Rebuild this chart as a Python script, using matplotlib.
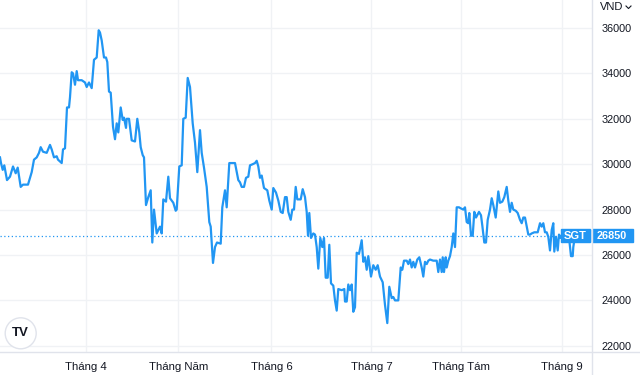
import matplotlib
matplotlib.use("Agg")
import matplotlib.pyplot as plt
from matplotlib.lines import Line2D
from matplotlib.patches import Rectangle, Circle
import matplotlib.transforms as mtransforms

plt.rcParams['font.family'] = ['Liberation Sans', 'DejaVu Sans']

# session index (approx. trading sessions since start) and closing price, VND
session = [0.0, 0.2, 0.54, 0.86, 1.4, 2.0, 2.6, 3.14, 3.54, 4.14, 4.6, 5.6, 6.34, 6.8, 7.34,
           7.8, 8.14, 8.6, 9.34, 10.0, 10.34, 10.8, 11.34, 11.6, 12.34, 12.6, 13.0, 13.4, 13.8,
           14.0, 14.34, 14.6, 15.0, 15.34, 15.6, 16.34, 17.0, 17.34, 17.8, 18.34, 18.8, 19.34,
           19.74, 20.0, 20.34, 20.8, 21.2, 21.46, 21.8, 22.14, 22.6, 23.0, 23.34, 23.66, 24.14,
           24.54, 24.8, 25.2, 25.34, 25.8, 26.34, 27.0, 27.46, 27.86, 28.14, 28.54, 28.8, 29.2,
           29.66, 30.14, 30.46, 30.8, 31.34, 32.0, 32.34, 32.66, 33.2, 33.66, 34.0, 34.66, 35.14,
           35.34, 35.86, 36.34, 36.66, 37.14, 37.54, 38.0, 38.54, 39.0, 39.46, 40.0, 40.34, 40.8,
           41.34, 41.86, 42.14, 42.6, 43.0, 43.4, 44.14, 44.46, 45.0, 45.34, 45.86, 47.0, 47.66,
           48.0, 48.34, 48.8, 49.2, 49.66, 50.0, 50.54, 51.0, 51.34, 51.66, 52.0, 52.34, 52.8,
           53.46, 53.86, 54.34, 54.66, 55.2, 55.66, 56.14, 56.54, 57.0, 57.34, 57.66, 58.14,
           58.46, 58.8, 59.14, 59.46, 60.14, 60.54, 61.0, 61.34, 61.6, 61.86, 62.2, 62.66, 63.0,
           63.34, 63.66, 64.06, 64.46, 64.8, 65.14, 65.54, 65.86, 66.2, 66.66, 67.0, 67.34, 67.66,
           68.34, 68.86, 69.0, 69.34, 69.66, 70.0, 70.34, 70.66, 71.0, 71.34, 71.8, 72.34, 72.66,
           73.0, 73.34, 73.66, 74.2, 74.66, 75.14, 75.54, 76.0, 76.54, 77.0, 77.46, 77.86, 78.34,
           78.66, 79.0, 79.66, 80.14, 80.46, 80.8, 81.34, 81.66, 82.0, 82.34, 82.66, 83.0, 83.46,
           83.86, 84.34, 84.66, 85.0, 85.34, 85.66, 86.0, 86.66, 87.34, 87.66, 88.0, 88.34, 88.54,
           88.8, 89.14, 89.34, 89.66, 90.0, 90.34, 90.66, 91.0, 91.34, 91.8, 92.2, 92.66, 93.0,
           93.34, 93.66, 93.86, 94.2, 94.54, 94.86, 95.2, 95.8, 96.2, 96.46, 96.86, 97.2, 97.54,
           98.0, 98.34, 98.66, 99.14, 99.66, 100.0, 100.46, 100.86, 101.34, 101.66, 102.0, 102.34,
           102.66, 103.14, 103.54, 104.0, 104.34, 104.66, 105.0, 105.34, 105.66, 106.0, 106.34,
           106.86, 107.54, 108.0, 108.34, 108.66, 109.0, 109.34, 109.66, 110.0, 110.34, 110.66,
           110.86, 111.2, 111.54, 111.8, 112.14, 112.6, 113.2, 113.86, 114.2, 114.54, 114.66, 115.0]

price = [30300, 30050, 29750, 29950, 29300, 29450, 29900, 29600, 29850, 29000, 29100, 29100, 29650,
         30200, 30300, 30500, 30750, 30550, 30500, 30850, 30650, 30300, 30350, 30200, 30050, 30650,
         30700, 32500, 32500, 32950, 34050, 34000, 33500, 34100, 33700, 33700, 33600, 33400, 33600,
         33350, 34600, 34700, 35900, 35800, 35450, 34700, 34700, 34500, 33200, 33150, 31650, 31100,
         31800, 31400, 32500, 31950, 32050, 31600, 32000, 32000, 31050, 31000, 32000, 31400, 30750,
         30400, 30300, 28200, 28550, 28850, 26550, 28000, 26950, 27250, 26950, 28450, 28350, 29450,
         28500, 28300, 27950, 28000, 29900, 29950, 32000, 32050, 33800, 33400, 31800, 30950, 29650,
         31500, 30500, 29850, 29000, 27450, 27250, 25650, 26350, 26550, 26500, 28100, 28850, 28100,
         30050, 30050, 29300, 29200, 29000, 29000, 29400, 29450, 29950, 30000, 30050, 30150, 29900,
         29400, 29500, 28950, 28850, 28400, 28000, 28950, 28750, 28400, 27900, 27850, 28550, 28550,
         27900, 27550, 28000, 28000, 29000, 28450, 28450, 28900, 28550, 27900, 26850, 27850, 26750,
         26950, 26900, 26350, 25400, 26750, 26350, 26750, 25000, 25000, 26450, 24750, 24650, 24000,
         23550, 24500, 24450, 24500, 23950, 23950, 24700, 24450, 24700, 23500, 23700, 26100, 26050,
         26650, 25700, 25900, 25350, 25950, 25050, 25550, 25350, 25550, 25050, 24800, 23800, 23000,
         24600, 24100, 24150, 24000, 24000, 25450, 25350, 25750, 25750, 25600, 25800, 25450, 25700,
         25450, 25800, 25900, 25450, 25050, 25700, 25600, 25750, 25800, 25750, 25750, 25250, 25800,
         25250, 25900, 25250, 25900, 25450, 25750, 25950, 26350, 26950, 26350, 28100, 28100, 28050,
         28000, 28100, 27450, 27400, 27850, 26850, 26850, 27900, 27650, 27900, 27750, 27300, 26550,
         26550, 27550, 28000, 28500, 28200, 27650, 28800, 28300, 28350, 28550, 29000, 28400, 27900,
         28300, 28000, 27950, 27850, 27550, 27400, 27650, 27650, 27250, 26900, 26900, 26950, 27000,
         27000, 27400, 27250, 27400, 27000, 27000, 26800, 26200, 27100, 27400, 26150, 26800, 26200,
         26900, 26750, 27000, 27000, 26650, 25950, 25950, 26350, 26850]

month_pos = [17.2, 35.7, 54.3, 74.3, 92.3, 112.4]
month_labels = ["Tháng 4", "Tháng Năm", "Tháng 6", "Tháng 7", "Tháng Tám", "Tháng 9"]
price_ticks = [22000, 24000, 26000, 28000, 30000, 32000, 34000, 36000]
symbol = "SGT"
last_price = 26850

blue = "#2196f3"
grid_c = "#f0f2f5"
border_c = "#e0e3eb"
text_c = "#131722"

fig = plt.figure(figsize=(6.4, 3.75), dpi=100)
ax = fig.add_axes([0, 23 / 375, 592 / 640, 352 / 375])

ax.plot(session, price, color=blue, lw=1.6, solid_joinstyle="round", zorder=3)
ax.axhline(last_price, color=blue, lw=0.9, ls=(0, (1, 2)), zorder=2)

ax.set_xlim(0, 118.4)
ax.set_ylim(21727, 37233)
ax.set_xticks(month_pos, month_labels)
ax.set_yticks(price_ticks, [str(v) for v in price_ticks])
ax.yaxis.tick_right()
ax.grid(True, color=grid_c, lw=1)
ax.set_axisbelow(True)
ax.tick_params(axis="both", length=0, colors=text_c)
ax.tick_params(axis="x", pad=7, labelsize=8.2)
ax.tick_params(axis="y", pad=7, labelsize=7.8)
for s in ax.spines.values():
    s.set_visible(False)

# frame lines of the widget
fig.add_artist(Line2D([0, 1], [23 / 375, 23 / 375], color=border_c, lw=1))
fig.add_artist(Line2D([592 / 640, 592 / 640], [0, 1], color=border_c, lw=1))

# last price labels
tr = mtransforms.blended_transform_factory(ax.transAxes, ax.transData)
ax.add_patch(Rectangle((561 / 592, last_price - 290), 28.5 / 592, 580, transform=tr,
                       color=blue, clip_on=False, zorder=4))
ax.add_patch(Rectangle((1.0, last_price - 290), 40.5 / 592, 580, transform=tr,
                       color=blue, clip_on=False, zorder=4))
ax.text(575 / 592, last_price, symbol, transform=tr, ha="center", va="center",
        color="white", fontsize=8, fontweight="bold", zorder=5)
ax.text(612 / 592, last_price, str(last_price), transform=tr, ha="center", va="center",
        color="white", fontsize=7.8, fontweight="bold", zorder=5, clip_on=False)

# currency selector
fig.text(600 / 640, 1 - 7 / 375, "VND", ha="left", va="center", color=text_c, fontsize=8)
fig.add_artist(Line2D([626 / 640, 628.5 / 640, 631 / 640],
                      [1 - 6 / 375, 1 - 8.5 / 375, 1 - 6 / 375], color=text_c, lw=0.8))

# TradingView badge
fig.add_artist(Circle((0.207, 0.417), 0.155, transform=fig.dpi_scale_trans,
                      facecolor="white", edgecolor=border_c, lw=1))
fig.text(20.5 / 640, 1 - 333 / 375, "TV", ha="center", va="center", color=text_c,
         fontsize=9.5, fontweight="heavy")

fig.savefig("out.png", dpi=100)
